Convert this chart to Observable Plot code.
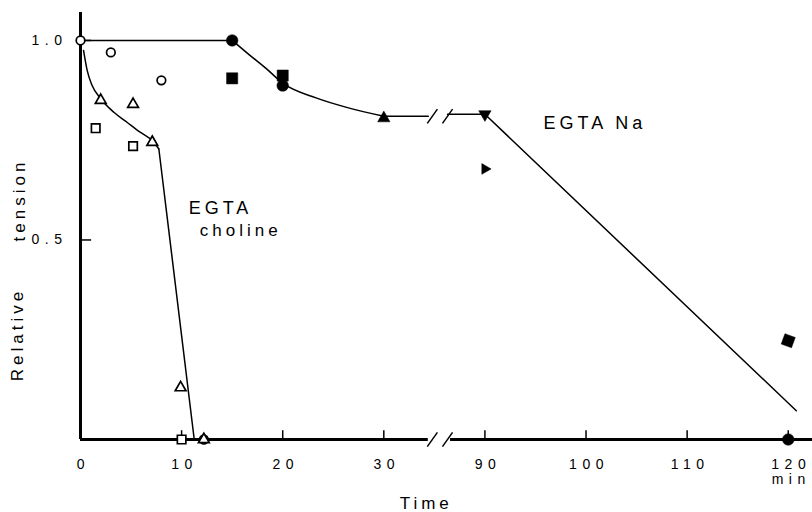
<!DOCTYPE html>
<html><head><meta charset="utf-8">
<script src="https://cdn.jsdelivr.net/npm/d3@7"></script>
<script src="https://cdn.jsdelivr.net/npm/@observablehq/plot@0.6"></script>
<style>
html,body{margin:0;padding:0;background:#fff;}
g[font-size="14"] text{letter-spacing:5.5px;}
</style>
</head><body><div id="chart"></div>
<script>
// ---------- Data: time (min) vs relative tension ----------
// EGTA choline (open symbols)
const cholCircleTime = [0, 3, 8, 12.2];
const cholCircleTension = [1.0, 0.97, 0.9, 0.0];
const cholTriTime = [2.0, 5.2, 7.1, 9.9, 12.2];
const cholTriTension = [0.85, 0.84, 0.745, 0.13, 0.0];
const cholSquareTime = [1.5, 5.2, 10.0];
const cholSquareTension = [0.78, 0.735, 0.0];
// choline fitted curve and drop
const cholCurveTime = [0.3, 0.66, 1.15, 2.0, 3.3, 4.6, 5.9, 7.25, 7.75];
const cholCurveTension = [0.975, 0.925, 0.887, 0.854, 0.82, 0.795, 0.77, 0.745, 0.728];
const cholDropTime = [7.75, 11.25];
const cholDropTension = [0.728, 0.0];

// EGTA Na (filled symbols)
const naCircleTime = [15, 20, 120];
const naCircleTension = [1.0, 0.887, 0.0];
const naSquareTime = [15, 20];
const naSquareTension = [0.905, 0.912];
const naTriUpTime = [30];
const naTriUpTension = [0.805];
const naTriDownTime = [90];
const naTriDownTension = [0.815];
const naTriRightTime = [90];
const naTriRightTension = [0.678];
const naDiamondTime = [120];
const naDiamondTension = [0.2475];
// Na fitted line pieces
const naFlatTime = [0, 15];
const naFlatTension = [1.0, 1.0];
const naCurveTime = [15, 16.7, 18.35, 20, 23.3, 26.5, 30];
const naCurveTension = [1.0, 0.964, 0.93, 0.893, 0.856, 0.831, 0.81];
const naPlateauTime = [30, 34.4];
const naPlateauTension = [0.81, 0.81];
const naPlateau2Time = [86.3, 90];
const naPlateau2Tension = [0.815, 0.815];
const naDeclineTime = [90, 120.8];
const naDeclineTension = [0.815, 0.072];

// Axes
const xTicks = [0, 10, 20, 30, 90, 100, 110, 120];
const yTicks = [0.5, 1.0];
const yTickLabels = ["0.5", "1.0"];
const axisSegments = [[0, 34.4], [86.6, 122.4]];
const breakTimes = [34.8, 86.3];   // "//" break marks
const breakLevels = [0, 0.81];     // on x axis and on Na plateau

// Broken time axis: 30..90 min gap collapsed
const brk = t => t > 60 ? t - 50 : t;
const pts = (T, V) => T.map((t, i) => ({x: brk(t), y: V[i]}));

// custom symbols
const sq3 = Math.sqrt(3);
const triDown = {draw(c, size) { const y = -Math.sqrt(size / (sq3 * 3)); c.moveTo(0, -y * 2); c.lineTo(-sq3 * y, y); c.lineTo(sq3 * y, y); c.closePath(); }};
const triRight = {draw(c, size) { const y = -Math.sqrt(size / (sq3 * 3)); c.moveTo(-y * 2, 0); c.lineTo(y, -sq3 * y); c.lineTo(y, sq3 * y); c.closePath(); }};
const diamond = {draw(c, size) { const h = Math.sqrt(size) / 2, a = 20 * Math.PI / 180;
  const P = [[-h,-h],[h,-h],[h,h],[-h,h]].map(([x,y]) => [x*Math.cos(a)-y*Math.sin(a), x*Math.sin(a)+y*Math.cos(a)]);
  c.moveTo(...P[0]); c.lineTo(...P[1]); c.lineTo(...P[2]); c.lineTo(...P[3]); c.closePath(); }};

const lineOpts = {x: "x", y: "y", stroke: "black", strokeWidth: 1.5};
const openOpts = {x: "x", y: "y", stroke: "black", fill: "white", strokeWidth: 1.7};
const fillOpts = {x: "x", y: "y", fill: "black", stroke: "black", strokeWidth: 0.5};

const slashes = [];
for (const t of breakTimes) for (const v of breakLevels) slashes.push({x1: brk(t) - 0.5, x2: brk(t) + 0.5, y1: v - 0.018, y2: v + 0.018});

const chart = Plot.plot({
  width: 812, height: 512,
  marginLeft: 80, marginRight: 0, marginTop: 12, marginBottom: 73,
  x: {domain: [0, 72.4], axis: null},
  y: {domain: [0, 1.07], axis: null},
  style: {fontFamily: "Liberation Sans, Arial, sans-serif", background: "white", letterSpacing: "4px"},
  marks: [
    // axes
    Plot.ruleX([0], {y1: 0, y2: 1.07, stroke: "black", strokeWidth: 3}),
    Plot.ruleY(axisSegments, {y: 0, x1: d => brk(d[0]), x2: d => brk(d[1]), stroke: "black", strokeWidth: 3}),
    Plot.ruleX(xTicks.filter(t => t > 0), {x: brk, y1: 0, y2: 0.022, stroke: "black", strokeWidth: 1.5}),
    Plot.ruleY(yTicks, {y: d => d, x1: 0, x2: 1.1, stroke: "black", strokeWidth: 1.5}),
    Plot.link(slashes, {x1: "x1", y1: "y1", x2: "x2", y2: "y2", stroke: "black", strokeWidth: 1.5}),
    Plot.text(xTicks, {x: brk, y: 0, dy: 25, text: d => String(d), fontSize: 14, dx: 3}),
    Plot.text(["min"], {x: brk(120), y: 0, dy: 40, text: d => d, fontSize: 14, dx: 3}),
    Plot.text(["Time"], {x: brk(34), y: 0, dy: 64, text: d => d, fontSize: 17, dx: 2}),
    Plot.text(yTicks, {x: 0, y: d => d, text: (d, i) => yTickLabels[i], textAnchor: "end", dx: -13, fontSize: 14}),
    Plot.text(["Relative"], {x: -6.2, y: 0.263, text: d => d, rotate: -90, fontSize: 17}),
    Plot.text(["tension"], {x: -6.0, y: 0.6, text: d => d, rotate: -90, fontSize: 17}),
    Plot.text(["EGTA"], {x: 10.7, y: 0.579, text: d => d, textAnchor: "start", fontSize: 18}),
    Plot.text(["choline"], {x: 11.8, y: 0.524, text: d => d, textAnchor: "start", fontSize: 17}),
    Plot.text(["EGTA Na"], {x: brk(95.8), y: 0.792, text: d => d, textAnchor: "start", fontSize: 18}),
    // fitted lines
    Plot.line(pts(naFlatTime, naFlatTension), lineOpts),
    Plot.line(pts(naCurveTime, naCurveTension), {...lineOpts, curve: "monotone-x"}),
    Plot.line(pts(naPlateauTime, naPlateauTension), lineOpts),
    Plot.line(pts(naPlateau2Time, naPlateau2Tension), lineOpts),
    Plot.line(pts(naDeclineTime, naDeclineTension), lineOpts),
    Plot.line(pts(cholCurveTime, cholCurveTension), {...lineOpts, curve: "monotone-x"}),
    Plot.line(pts(cholDropTime, cholDropTension), lineOpts),
    // open symbols (choline)
    Plot.dot(pts(cholSquareTime, cholSquareTension), {...openOpts, symbol: "square", r: 4.8}),
    Plot.dot(pts(cholCircleTime, cholCircleTension), {...openOpts, symbol: "circle", r: 4.3}),
    Plot.dot(pts(cholTriTime, cholTriTension), {...openOpts, symbol: "triangle", r: 4.0}),
    // filled symbols (Na)
    Plot.dot(pts(naCircleTime, naCircleTension), {...fillOpts, symbol: "circle", r: 5.8}),
    Plot.dot(pts(naSquareTime, naSquareTension), {...fillOpts, symbol: "square", r: 6.3}),
    Plot.dot(pts(naTriUpTime, naTriUpTension), {...fillOpts, symbol: "triangle", r: 4.6}),
    Plot.dot(pts(naTriDownTime, naTriDownTension), {...fillOpts, symbol: triDown, r: 4.6}),
    Plot.dot(pts(naTriRightTime, naTriRightTension), {...fillOpts, symbol: triRight, r: 4.0}),
    Plot.dot(pts(naDiamondTime, naDiamondTension), {...fillOpts, symbol: diamond, r: 6.2})
  ]
});
document.getElementById("chart").appendChild(chart);
</script>
</body></html>
